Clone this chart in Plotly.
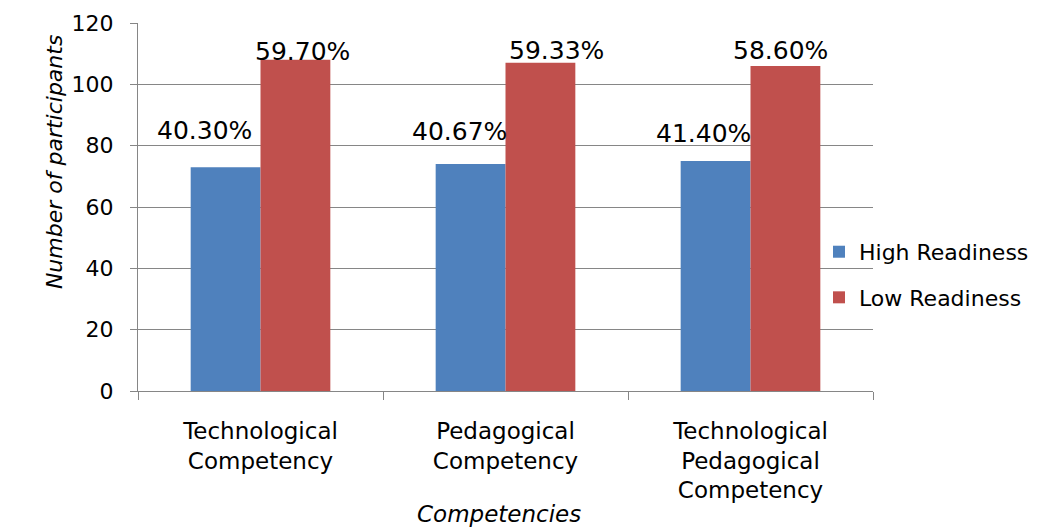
import plotly.graph_objects as go

categories = ["Technological<br>Competency", "Pedagogical<br>Competency",
              "Technological<br>Pedagogical<br>Competency"]
high_readiness = [73, 74, 75]
low_readiness = [108, 107, 106]
high_labels = ["40.30%", "40.67%", "41.40%"]
low_labels = ["59.70%", "59.33%", "58.60%"]
y_ticks = [0, 20, 40, 60, 80, 100, 120]

# label placement offsets (pixels, relative to category centre / bar top)
high_xshift = [-56, -46, -47]
high_yshift = [37, 33, 28]
low_xshift = [42, 51, 30]
low_yshift = [8, 12, 15]

BLUE = "#4F81BD"
RED = "#C0504D"
GRID = "#868686"
FONT = "DejaVu Sans"

fig = go.Figure()
fig.add_trace(go.Bar(x=categories, y=high_readiness, name="High Readiness",
                     marker=dict(color=BLUE, line=dict(width=0)), legendgroup="h"))
fig.add_trace(go.Bar(x=categories, y=low_readiness, name="Low Readiness",
                     marker=dict(color=RED, line=dict(width=0)), legendgroup="l"))

annotations = []
for i, c in enumerate(categories):
    annotations.append(dict(x=c, y=high_readiness[i], xref="x", yref="y",
                            text=high_labels[i], showarrow=False,
                            xshift=high_xshift[i], yshift=high_yshift[i],
                            yanchor="middle", xanchor="center",
                            font=dict(family=FONT, size=25, color="black")))
    annotations.append(dict(x=c, y=low_readiness[i], xref="x", yref="y",
                            text=low_labels[i], showarrow=False,
                            xshift=low_xshift[i], yshift=low_yshift[i],
                            yanchor="middle", xanchor="center",
                            font=dict(family=FONT, size=25, color="black")))

annotations.append(dict(x=0.4918, y=0, xref="paper", yref="paper",
                        text="<i>Competencies</i>", showarrow=False,
                        yshift=-123, yanchor="middle", xanchor="center",
                        font=dict(family=FONT, size=23, color="black")))
annotations.append(dict(x=0, y=0.622, xref="paper", yref="paper",
                        text="<i>Number of participants</i>", showarrow=False,
                        xshift=-84, textangle=-90, yanchor="middle", xanchor="center",
                        font=dict(family=FONT, size=22, color="black")))

fig.update_layout(
    width=1041, height=519,
    margin=dict(l=130, r=176, t=15, b=136, autoexpand=False),
    paper_bgcolor="white", plot_bgcolor="white",
    barmode="group", bargap=0.43, bargroupgap=0,
    font=dict(family=FONT, size=22, color="black"),
    showlegend=True,
    legend=dict(x=0.9265, y=0.435, xanchor="left", yanchor="top",
                bgcolor="rgba(0,0,0,0)", traceorder="grouped",
                tracegroupgap=14, font=dict(family=FONT, size=22, color="black")),
    annotations=annotations,
    xaxis=dict(showgrid=False, showline=True, linecolor=GRID, linewidth=1,
               ticks="outside", ticklen=8, tickcolor=GRID, tickson="boundaries",
               tickfont=dict(family=FONT, size=23, color="black"),
               ticklabelstandoff=19),
    yaxis=dict(range=[0, 120], tickvals=y_ticks, showgrid=True, gridcolor=GRID,
               gridwidth=1, zeroline=False, showline=True, linecolor=GRID,
               linewidth=1, ticks="outside", ticklen=7, tickcolor=GRID,
               tickfont=dict(family=FONT, size=22, color="black"),
               ticklabelstandoff=12),
)

fig.write_html("out.html")
